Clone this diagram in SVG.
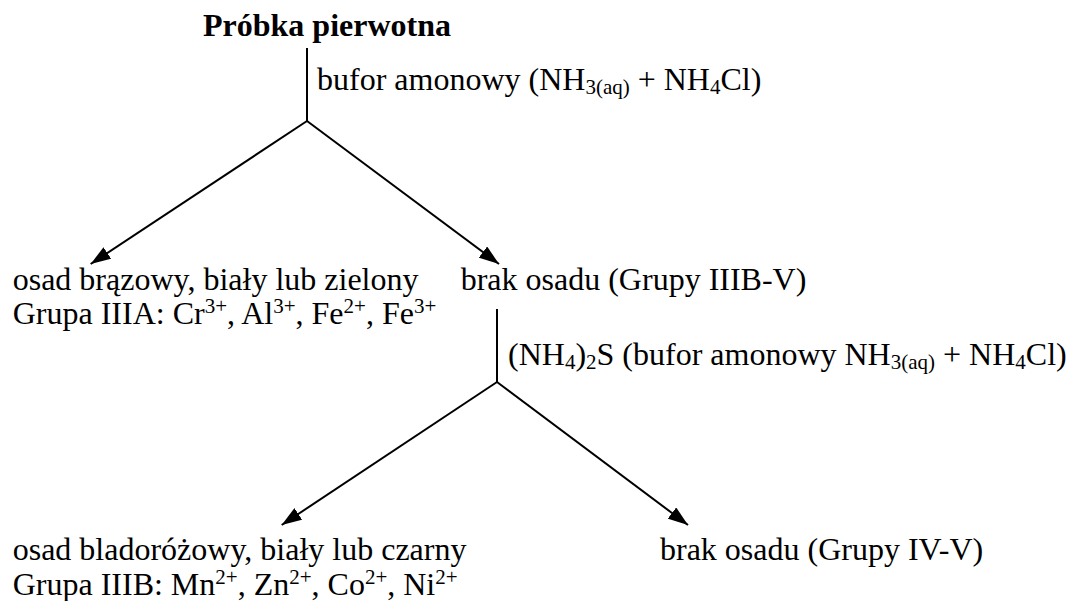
<svg xmlns="http://www.w3.org/2000/svg" width="1070" height="601" viewBox="0 0 1070 601">
<style>
text{font-family:"Liberation Serif","Times New Roman",serif;font-size:32px;fill:#000}
.b{font-weight:bold}
.s{font-size:21px}
.c{stroke:#000;stroke-width:2;fill:none}
</style>
<defs>
<marker id="ah" viewBox="0 0 20 14" refX="20" refY="7" markerWidth="20" markerHeight="14" markerUnits="userSpaceOnUse" orient="auto">
<path d="M0,0 L20,7 L0,14 z" fill="#000"/>
</marker>
</defs>
<rect width="1070" height="601" fill="#fff"/>
<g id="connectors">
<line class="c" x1="307" y1="48" x2="307" y2="121"/>
<line class="c" x1="307" y1="121" x2="90.7" y2="264" marker-end="url(#ah)"/>
<line class="c" x1="307" y1="121" x2="499" y2="264" marker-end="url(#ah)"/>
<line class="c" x1="497" y1="309" x2="497" y2="382"/>
<line class="c" x1="497" y1="382" x2="281.7" y2="525" marker-end="url(#ah)"/>
<line class="c" x1="497" y1="382" x2="688" y2="525" marker-end="url(#ah)"/>
</g>
<g id="label1"><text x="317" y="90">bufor amonowy (NH<tspan class="s" dy="4">3(aq)</tspan><tspan dy="-4"> + NH</tspan><tspan class="s" dy="4">4</tspan><tspan dy="-4">Cl)</tspan></text></g>
<g id="label2"><text x="508" y="365">(NH<tspan class="s" dy="4">4</tspan><tspan dy="-4">)</tspan><tspan class="s" dy="4">2</tspan><tspan dy="-4">S (bufor amonowy NH</tspan><tspan class="s" dy="4">3(aq)</tspan><tspan dy="-4"> + NH</tspan><tspan class="s" dy="4">4</tspan><tspan dy="-4">Cl)</tspan></text></g>
<g id="root"><text class="b" x="203" y="36">Próbka pierwotna</text></g>
<g id="group3a">
<text x="12.7" y="290">osad brązowy, biały lub zielony</text>
<text x="12.7" y="324">Grupa IIIA: Cr<tspan class="s" dy="-11">3+</tspan><tspan dy="11">, Al</tspan><tspan class="s" dy="-11">3+</tspan><tspan dy="11">, Fe</tspan><tspan class="s" dy="-11">2+</tspan><tspan dy="11">, Fe</tspan><tspan class="s" dy="-11">3+</tspan></text>
</g>
<g id="nopre1"><text x="460.7" y="290">brak osadu (Grupy IIIB-V)</text></g>
<g id="group3b">
<text x="12.7" y="560">osad bladoróżowy, biały lub czarny</text>
<text x="12.7" y="595">Grupa IIIB: Mn<tspan class="s" dy="-11">2+</tspan><tspan dy="11">, Zn</tspan><tspan class="s" dy="-11">2+</tspan><tspan dy="11">, Co</tspan><tspan class="s" dy="-11">2+</tspan><tspan dy="11">, Ni</tspan><tspan class="s" dy="-11">2+</tspan></text>
</g>
<g id="nopre2"><text x="660" y="560">brak osadu (Grupy IV-V)</text></g>
</svg>
